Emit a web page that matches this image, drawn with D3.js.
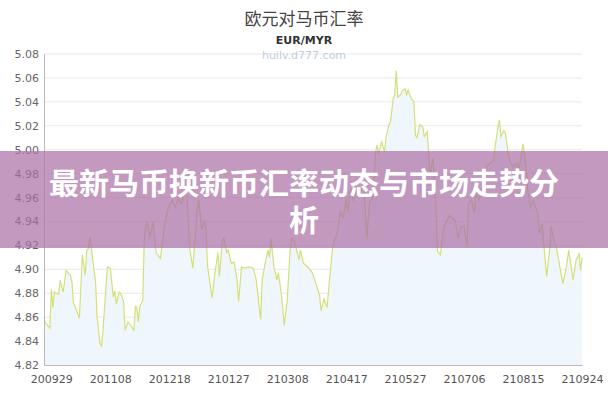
<!DOCTYPE html>
<html>
<head>
<meta charset="utf-8">
<script src="https://cdn.jsdelivr.net/npm/d3@7/dist/d3.min.js"></script>
<style>
html,body{margin:0;padding:0;background:#fff;}
svg{display:block;}
</style>
</head>
<body>
<svg id="chart" width="608" height="400"></svg>
<script>
const titleText = "欧元对马币汇率";
const subtitleText = "EUR/MYR";
const watermarkText = "huilv.d777.com";
const bannerLines = ["最新马币换新币汇率动态与市场走势分", "析"];

const dates = ["200924","200925","200928","200929","200930","201001","201004","201005","201007","201009",
"201012","201013","201014","201016","201018","201020","201022","201023","201024","201025",
"201026","201029","201030","201101","201102","201103","201106","201108","201110","201111",
"201112","201114","201115","201117","201118","201120","201122","201124","201125","201126",
"201127","201128","201130","201201","201202","201203","201205","201207","201209","201212",
"201215","201217","201220","201222","201224","201226","201228","201230","210101","210103",
"210106","210107","210109","210111","210112","210113","210116","210118","210120","210121",
"210123","210124","210126","210127","210129","210131","210202","210203","210205","210207",
"210210","210213","210215","210218","210219","210221","210223","210224","210225","210227",
"210301","210302","210304","210306","210308","210310","210311","210313","210316","210317",
"210319","210322","210325","210327","210330","210331","210402","210404","210406","210408",
"210411","210413","210415","210417","210418","210420","210422","210424","210426","210429",
"210501","210503","210505","210507","210508","210509","210511","210513","210514","210516",
"210517","210519","210520","210521","210522","210524","210525","210527","210528","210529",
"210531","210602","210603","210604","210606","210608","210609","210611","210612","210613",
"210615","210617","210618","210620","210622","210624","210626","210627","210630","210702",
"210704","210706","210708","210709","210711","210713","210714","210716","210718","210720",
"210721","210724","210726","210727","210729","210730","210731","210802","210803","210805",
"210806","210808","210811","210812","210814","210815","210817","210818","210820","210822",
"210824","210825","210826","210828","210829","210831","210902","210903","210905","210907",
"210909","210911","210913","210915","210916","210918","210920","210922","210923","210924"];

const rates = [4.860,4.855,4.851,4.883,4.868,4.881,4.879,4.891,4.881,4.899,
4.895,4.889,4.872,4.866,4.859,4.912,4.895,4.916,4.917,4.927,
4.919,4.889,4.860,4.838,4.836,4.849,4.902,4.901,4.877,4.882,
4.871,4.881,4.880,4.873,4.849,4.856,4.853,4.849,4.869,4.868,
4.856,4.869,4.874,4.924,4.936,4.939,4.927,4.940,4.914,4.909,
4.939,4.950,4.958,4.952,4.959,4.955,4.962,4.962,4.916,4.901,
4.952,4.958,4.933,4.941,4.930,4.902,4.876,4.897,4.914,4.894,
4.924,4.926,4.914,4.916,4.905,4.906,4.891,4.873,4.902,4.901,
4.902,4.901,4.891,4.858,4.891,4.905,4.916,4.910,4.926,4.902,
4.891,4.897,4.880,4.853,4.874,4.916,4.926,4.923,4.908,4.916,
4.905,4.902,4.897,4.890,4.878,4.865,4.875,4.868,4.895,4.920,
4.931,4.948,4.943,4.959,4.948,4.967,4.957,4.967,4.962,4.973,
4.926,4.957,4.959,4.998,5.004,4.996,5.007,4.998,5.010,5.021,
5.023,5.043,5.046,5.066,5.044,5.046,5.049,5.051,5.046,5.050,
5.043,5.040,5.012,5.010,5.021,5.019,5.011,5.015,4.996,4.979,
4.993,4.951,4.915,4.912,4.934,4.940,4.945,4.944,4.941,4.926,
4.936,4.936,4.919,4.955,4.958,4.947,4.964,4.958,4.969,4.975,
4.986,4.989,4.991,5.002,5.019,5.025,5.011,5.016,5.014,4.997,
4.991,4.986,4.989,4.983,4.997,5.005,4.986,4.969,4.952,4.958,
4.950,4.947,4.930,4.938,4.922,4.894,4.916,4.936,4.924,4.916,
4.902,4.888,4.899,4.916,4.908,4.891,4.908,4.913,4.899,4.910];

const xTickLabels = ["200929","201108","201218","210127","210308","210417","210527","210706","210815","210924"];
const yTickValues = [4.82,4.84,4.86,4.88,4.90,4.92,4.94,4.96,4.98,5.00,5.02,5.04,5.06,5.08];
const xDomain = ["200924","210924"];

const parse = d3.timeParse("%y%m%d");
const data = dates.map((d,i)=>({date: parse(d), value: rates[i]}));

const svg = d3.select("#chart");
const plotLeft = 44, plotRight = 582, plotTop = 54, plotBottom = 365;

const x = d3.scaleTime().domain(xDomain.map(parse)).range([plotLeft, plotRight]);
const y = d3.scaleLinear().domain([4.82, 5.08]).range([plotBottom, plotTop]);

// gridlines
svg.append("g").selectAll("line").data(yTickValues).join("line")
  .attr("x1", plotLeft).attr("x2", plotRight)
  .attr("y1", d=>y(d)).attr("y2", d=>y(d))
  .attr("stroke", "#e9e9e9").attr("stroke-width", 1);

// area
const area = d3.area().x(d=>x(d.date)).y0(plotBottom).y1(d=>y(d.value));
svg.append("path").datum(data).attr("d", area).attr("fill", "#eef6fc").attr("opacity", 0.9);

// line
const line = d3.line().x(d=>x(d.date)).y(d=>y(d.value));
svg.append("path").datum(data).attr("d", line)
  .attr("fill", "none").attr("stroke", "#d3e07a").attr("stroke-width", 1.2);

// axes
const yAxis = d3.axisLeft(y).tickValues(yTickValues).tickFormat(d3.format(".2f")).tickSize(0).tickPadding(5);
const gy = svg.append("g").attr("transform", `translate(${plotLeft},0)`).call(yAxis);
gy.select(".domain").attr("stroke", "#bbbbbb");
gy.selectAll("text").attr("fill", "#666").style("font-family", "DejaVu Sans").style("font-size", "11px");

const xAxis = d3.axisBottom(x).tickValues(xTickLabels.map(parse)).tickFormat(d3.timeFormat("%y%m%d")).tickSize(0).tickPadding(10);
const gx = svg.append("g").attr("transform", `translate(0,${plotBottom})`).call(xAxis);
gx.select(".domain").attr("stroke", "#bbbbbb");
gx.selectAll("text").attr("fill", "#555").style("font-family", "DejaVu Sans").style("font-size", "11px");

// titles
svg.append("text").attr("x", 304).attr("y", 25).attr("text-anchor", "middle")
  .style("font-family", "Noto Sans CJK SC").style("font-size", "17px").attr("fill", "#444").text(titleText);
svg.append("text").attr("x", 304).attr("y", 44).attr("text-anchor", "middle")
  .style("font-family", "DejaVu Sans").style("font-weight", "bold").style("font-size", "11px").attr("fill", "#333").text(subtitleText);
svg.append("text").attr("x", 304).attr("y", 59).attr("text-anchor", "middle")
  .style("font-family", "DejaVu Sans").style("font-size", "11px").attr("fill", "#bfcfdc").text(watermarkText);

// banner
svg.append("rect").attr("x", 0).attr("y", 151).attr("width", 608).attr("height", 97)
  .attr("fill", "rgb(170,110,165)").attr("opacity", 0.7);
const bannerText = svg.append("text").attr("text-anchor", "middle")
  .style("font-family", "Noto Sans CJK SC").style("font-weight", "bold").style("font-size", "30px")
  .attr("fill", "#fff");
bannerText.selectAll("tspan").data(bannerLines).join("tspan")
  .attr("x", 304).attr("y", (d,i)=>194 + i*37).text(d=>d);
</script>
</body>
</html>
